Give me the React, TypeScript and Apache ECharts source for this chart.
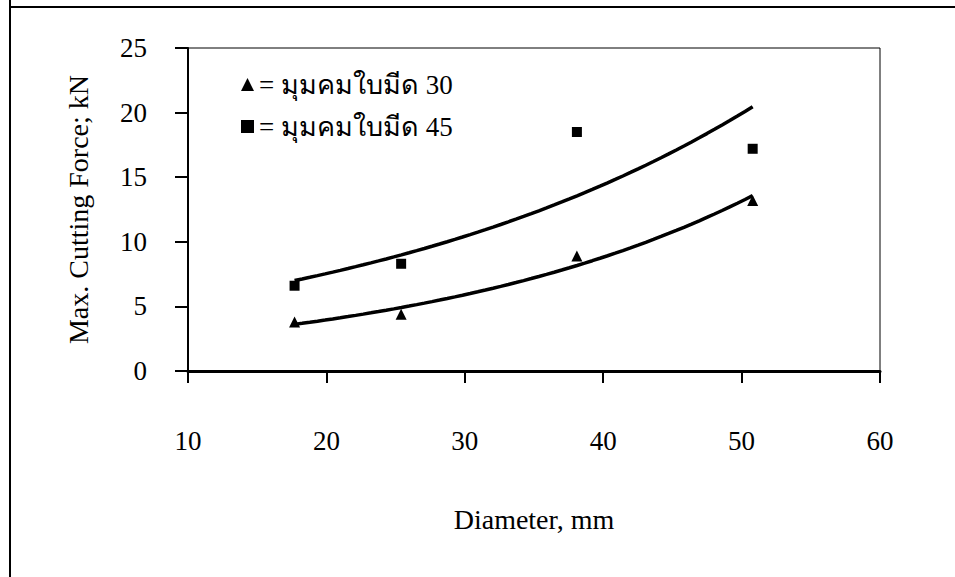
import React, { useEffect, useRef } from "react";
import * as echarts from "echarts";

const diameters = [17.7, 25.4, 38.1, 50.8];
const force30 = [3.8, 4.4, 8.9, 13.2];
const force45 = [6.6, 8.3, 18.5, 17.2];
const xTicks = [10, 20, 30, 40, 50, 60];
const yTicks = [0, 5, 10, 15, 20, 25];
const name30 = "มุมคมใบมีด 30";
const name45 = "มุมคมใบมีด 45";

// Exponential least-squares trendline (as in a spreadsheet trendline), derived from the data
function expTrend(xs: number[], ys: number[], steps = 60): number[][] {
  const n = xs.length;
  const ly = ys.map((v) => Math.log(v));
  const mx = xs.reduce((s, v) => s + v, 0) / n;
  const my = ly.reduce((s, v) => s + v, 0) / n;
  let sxy = 0;
  let sxx = 0;
  for (let i = 0; i < n; i++) {
    sxy += (xs[i] - mx) * (ly[i] - my);
    sxx += (xs[i] - mx) * (xs[i] - mx);
  }
  const b = sxy / sxx;
  const lnA = my - b * mx;
  const x0 = Math.min(...xs);
  const x1 = Math.max(...xs);
  const out: number[][] = [];
  for (let i = 0; i <= steps; i++) {
    const x = x0 + ((x1 - x0) * i) / steps;
    out.push([x, Math.exp(lnA + b * x)]);
  }
  return out;
}

const FONT = "'Liberation Serif', 'Times New Roman', serif";

export default function App() {
  const ref = useRef<HTMLDivElement>(null);
  useEffect(() => {
    document.body.style.margin = "0";
    if (!ref.current) return;
    const chart = echarts.init(ref.current, undefined, { renderer: "svg" });
    chart.setOption({
      animation: false,
      backgroundColor: "#ffffff",
      textStyle: { fontFamily: FONT, color: "#000" },
      grid: {
        left: 188,
        top: 48,
        right: 75,
        bottom: 206,
        show: true,
        borderColor: "#000",
        borderWidth: 1,
        backgroundColor: "transparent",
      },
      legend: {
        show: true,
        orient: "vertical",
        left: 236,
        top: 66,
        itemGap: 15,
        itemWidth: 13,
        itemHeight: 13,
        data: [name30, name45],
        formatter: (n: string) => "= " + n,
        textStyle: { fontFamily: FONT, fontSize: 27, color: "#000" },
      },
      graphic: [
        {
          type: "line",
          shape: { x1: 10, y1: 0, x2: 10, y2: 577 },
          style: { stroke: "#000", lineWidth: 2 },
        },
        {
          type: "line",
          shape: { x1: 9, y1: 7, x2: 955, y2: 7 },
          style: { stroke: "#000", lineWidth: 2 },
        },
      ],
      xAxis: {
        type: "value",
        min: xTicks[0],
        max: xTicks[xTicks.length - 1],
        interval: 10,
        name: "Diameter, mm",
        nameLocation: "middle",
        nameGap: 134,
        nameTextStyle: { fontFamily: FONT, fontSize: 28, color: "#000" },
        axisLine: { show: true, onZero: false, lineStyle: { color: "#000", width: 3 } },
        axisTick: { show: true, inside: false, length: 12, lineStyle: { color: "#000", width: 2 } },
        axisLabel: { margin: 56, fontFamily: FONT, fontSize: 27, color: "#000" },
        splitLine: { show: false },
      },
      yAxis: {
        type: "value",
        min: yTicks[0],
        max: yTicks[yTicks.length - 1],
        interval: 5,
        name: "Max. Cutting Force; kN",
        nameLocation: "middle",
        nameGap: 96,
        nameTextStyle: { fontFamily: FONT, fontSize: 28, color: "#000" },
        axisLine: { show: true, onZero: false, lineStyle: { color: "#000", width: 2 } },
        axisTick: { show: true, inside: false, length: 13, lineStyle: { color: "#000", width: 2 } },
        axisLabel: { margin: 41, fontFamily: FONT, fontSize: 27, color: "#000" },
        splitLine: { show: false },
      },
      series: [
        {
          name: "trend30",
          type: "line",
          data: expTrend(diameters, force30),
          showSymbol: false,
          symbol: "none",
          lineStyle: { color: "#000", width: 3.5 },
          z: 2,
        },
        {
          name: "trend45",
          type: "line",
          data: expTrend(diameters, force45),
          showSymbol: false,
          symbol: "none",
          lineStyle: { color: "#000", width: 3.5 },
          z: 2,
        },
        {
          name: name30,
          type: "scatter",
          symbol: "triangle",
          symbolSize: 11,
          itemStyle: { color: "#000", opacity: 1 },
          data: diameters.map((d, i) => [d, force30[i]]),
          z: 3,
        },
        {
          name: name45,
          type: "scatter",
          symbol: "rect",
          symbolSize: 10,
          itemStyle: { color: "#000", opacity: 1 },
          data: diameters.map((d, i) => [d, force45[i]]),
          z: 3,
        },
      ],
    });
    return () => chart.dispose();
  }, []);
  return <div ref={ref} style={{ width: 955, height: 577 }} />;
}
